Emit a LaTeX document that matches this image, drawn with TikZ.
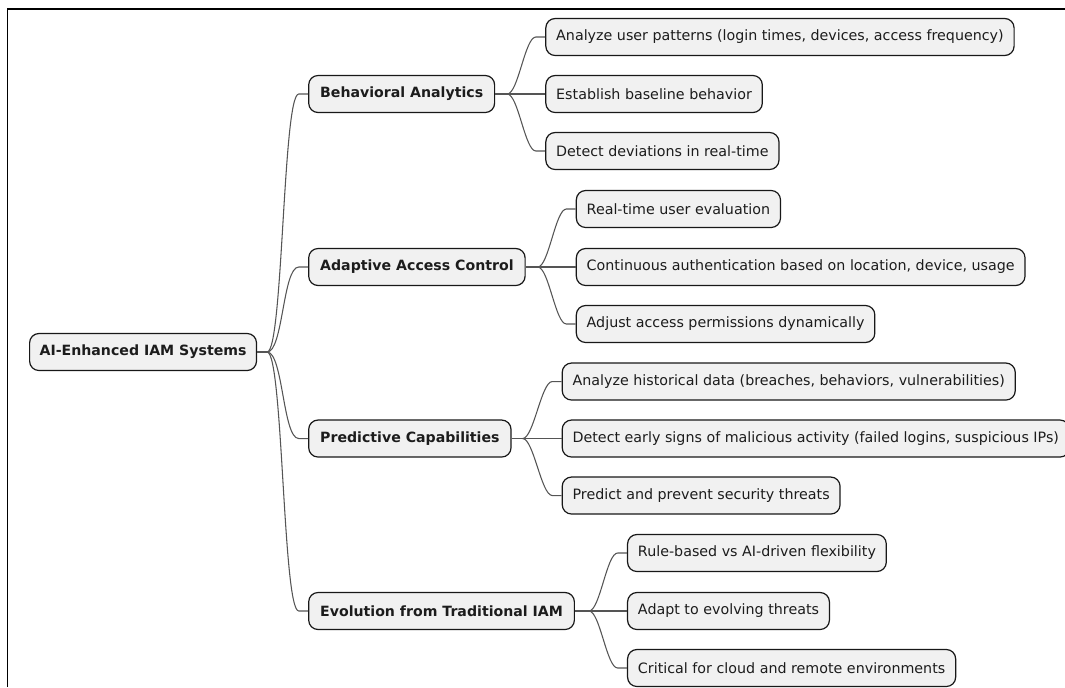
\documentclass[tikz,border=0pt]{standalone}
\usepackage{fontspec}
\setmainfont{DejaVu Sans}
\usetikzlibrary{positioning}
\definecolor{boxfill}{HTML}{F1F1F1}
\definecolor{boxline}{HTML}{181818}
\definecolor{linkgray}{HTML}{555555}
\definecolor{inktext}{HTML}{1C1C1C}
\tikzset{branch/.style={to path={.. controls +(#1,0) and +(-#1,0) .. ([xshift=-7pt]\tikztotarget.west) -- (\tikztotarget.west)}}, branch/.default=11}

\begin{document}
\begin{tikzpicture}[x=0.75pt, y=-0.75pt, node distance=37.5pt, font=\fontsize{10.7pt}{12pt}\selectfont]

    \tikzstyle{idea}=[draw=boxline, fill=boxfill, text=inktext, line width=0.9pt, rounded corners=7pt, minimum height=27.75pt, inner xsep=7.8pt, anchor=west]
    \tikzstyle{topic}=[idea, inner xsep=8.6pt, font=\fontsize{10.6pt}{12pt}\selectfont\bfseries]
    \tikzstyle{link}=[draw=linkgray, line width=0.8pt]

    \useasboundingbox (0,0) rectangle (1065,687);
    \draw[line width=1.2pt] (7.5,687) -- (7.5,9) -- (1065,9);

    \node[topic, inner xsep=7.5pt] (0) at (29,352) {AI-Enhanced IAM Systems};
    \node[topic] (1) at ([xshift=38.25pt, yshift=193.5pt]0.east)  {Behavioral Analytics};
    \node[topic] (2) at ([xshift=38.25pt, yshift=63.75pt]0.east)  {Adaptive Access Control};
    \node[topic] (3) at ([xshift=38.25pt, yshift=-64.9pt]0.east)  {Predictive Capabilities};
    \node[topic] (4) at ([xshift=38.25pt, yshift=-194.25pt]0.east) {Evolution from Traditional IAM};

    \node[idea] (12) [right=of 1] {Establish baseline behavior};
    \node[idea] (11) at ([yshift=42.75pt]12.west)  {Analyze user patterns (login times, devices, access frequency)};
    \node[idea] (13) at ([yshift=-42.75pt]12.west) {Detect deviations in real-time};

    \node[idea] (22) [right=of 2] {Continuous authentication based on location, device, usage};
    \node[idea] (21) at ([yshift=43.5pt]22.west)   {Real-time user evaluation};
    \node[idea] (23) at ([yshift=-42.75pt]22.west) {Adjust access permissions dynamically};

    \node[idea] (32) [right=of 3] {Detect early signs of malicious activity (failed logins, suspicious IPs)};
    \node[idea] (31) at ([yshift=42.75pt]32.west)  {Analyze historical data (breaches, behaviors, vulnerabilities)};
    \node[idea] (33) at ([yshift=-42.75pt]32.west) {Predict and prevent security threats};

    \node[idea] (42) [right=39pt of 4] {Adapt to evolving threats};
    \node[idea] (41) at ([yshift=43.5pt]42.west)   {Rule-based vs AI-driven flexibility};
    \node[idea] (43) at ([yshift=-42.75pt]42.west) {Critical for cloud and remote environments};

    % junctions
    \draw[link] (0.east) -- ++(10,0) coordinate (j0);
    \draw[link] (1.east) -- ++(12,0) coordinate (j1);
    \draw[link] (2.east) -- ++(12,0) coordinate (j2);
    \draw[link] (3.east) -- ++(11,0) coordinate (j3);
    \draw[link] (4.east) -- ++(14,0) coordinate (j4);

    \path
    (j0) edge[link, branch=16] (1)
    (j0) edge[link, branch=16] (2)
    (j0) edge[link, branch=16] (3)
    (j0) edge[link, branch=16] (4)
    (j1) edge[link, branch] (11)
    (j1) edge[link, branch] (12)
    (j1) edge[link, branch] (13)
    (j2) edge[link, branch] (21)
    (j2) edge[link, branch] (22)
    (j2) edge[link, branch] (23)
    (j3) edge[link, branch] (31)
    (j3) edge[link, branch] (32)
    (j3) edge[link, branch] (33)
    (j4) edge[link, branch] (41)
    (j4) edge[link, branch] (42)
    (j4) edge[link, branch] (43)
    ;
\end{tikzpicture}
\end{document}
